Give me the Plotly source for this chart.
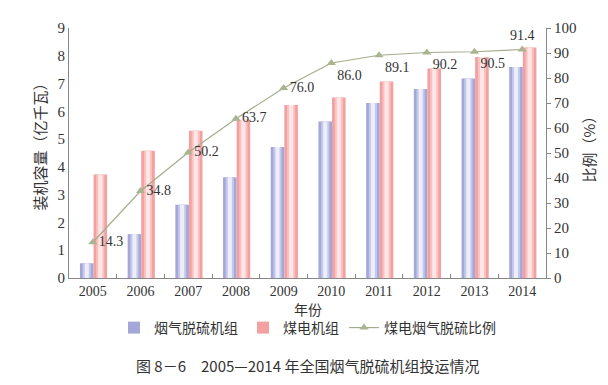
import plotly.graph_objects as go

years = ["2005", "2006", "2007", "2008", "2009", "2010", "2011", "2012", "2013", "2014"]
fgd_units = [0.53, 1.58, 2.64, 3.63, 4.72, 5.63, 6.30, 6.80, 7.18, 7.60]
coal_units = [3.73, 4.58, 5.30, 5.70, 6.23, 6.50, 7.07, 7.54, 7.96, 8.30]
fgd_ratio = [14.3, 34.8, 50.2, 63.7, 76.0, 86.0, 89.1, 90.2, 90.5, 91.4]
ratio_labels = ["14.3", "34.8", "50.2", "63.7", "76.0", "86.0", "89.1", "90.2", "90.5", "91.4"]

SERIF = "Liberation Serif, Times New Roman, Noto Sans CJK SC, serif"
CJK = "Noto Sans CJK SC, sans-serif"
TXT = "#333333"

fig = go.Figure()

BW = 0.285

def add_bar(vals, name, offset0, colors):
    # base + lighter inner strips to mimic cylinder shading
    layers = [(1.0, colors[0]), (0.6, colors[1]), (0.3, colors[2])]
    for i, (frac, col) in enumerate(layers):
        w = BW * frac
        center = offset0 + BW * 0.55
        fig.add_trace(go.Bar(
            x=years, y=vals, name=name, width=w, offset=center - w / 2,
            marker=dict(color=col, line=dict(width=0)),
            showlegend=(i == 0), legendgroup=name, hoverinfo="skip" if i else None,
            yaxis="y",
        ))

add_bar(fgd_units, "烟气脱硫机组", -BW, ["#a5a7d9", "#c6c8ea", "#eceefa"])
add_bar(coal_units, "煤电机组", 0.0, ["#f3a0a0", "#f8c2c2", "#fde6e6"])

positions = ["middle right"] * 5 + ["bottom right"] * 4 + ["top center"]
fig.add_trace(go.Scatter(
    x=years, y=fgd_ratio, name="煤电烟气脱硫比例", yaxis="y2",
    mode="lines+markers+text", text=ratio_labels, textposition=positions,
    textfont=dict(family=SERIF, size=14, color=TXT),
    line=dict(color="#a3ad8c", width=1.2),
    marker=dict(symbol="triangle-up", size=8, color="#a9b58f"),
))

# page body has an 8px default margin; figure is sized so the 608x385 window shows it all
fig.update_layout(
    width=600, height=377,
    margin=dict(l=61, r=62, t=13, b=107),
    paper_bgcolor="white", plot_bgcolor="white",
    barmode="overlay",
    font=dict(family=SERIF, size=14, color=TXT),
    showlegend=True,
    legend=dict(orientation="h", x=0.5, xanchor="center", y=-0.2, yanchor="middle",
                font=dict(family=CJK, size=14, color=TXT), itemwidth=30,
                traceorder="normal"),
    xaxis=dict(type="category", range=[-0.5, 9.5], showline=True, linecolor="#888888",
               linewidth=1, ticks="inside", tickson="boundaries", ticklen=4,
               tickcolor="#888888", showgrid=False, zeroline=False,
               tickfont=dict(family=SERIF, size=14, color=TXT)),
    yaxis=dict(range=[0, 9], dtick=1, showline=True, linecolor="#888888", linewidth=1,
               ticks="", showgrid=False, zeroline=False,
               tickfont=dict(family=SERIF, size=15, color=TXT)),
    yaxis2=dict(range=[0, 100], dtick=10, overlaying="y", side="right", showline=True,
                linecolor="#888888", linewidth=1, ticks="outside", ticklen=4,
                tickcolor="#888888", showgrid=False, zeroline=False,
                tickfont=dict(family=SERIF, size=15, color=TXT)),
    annotations=[
        dict(text="装机容量（亿千瓦）", xref="paper", yref="paper", x=-0.062, y=0.54,
             textangle=-90, showarrow=False, font=dict(family=CJK, size=15, color=TXT),
             xanchor="center", yanchor="middle"),
        dict(text="比例（%）", xref="paper", yref="paper", x=1.09, y=0.53,
             textangle=-90, showarrow=False, font=dict(family=CJK, size=15, color=TXT),
             xanchor="center", yanchor="middle"),
        dict(text="年份", xref="paper", yref="paper", x=0.5, y=-0.125,
             showarrow=False, font=dict(family=CJK, size=14, color=TXT),
             xanchor="center", yanchor="middle"),
        dict(text="图 8－6　2005—2014 年全国烟气脱硫机组投运情况", xref="paper", yref="paper",
             x=0.5, y=-0.352, showarrow=False, font=dict(family=CJK, size=15, color=TXT),
             xanchor="center", yanchor="middle"),
    ],
)

fig.write_html("out.html")
